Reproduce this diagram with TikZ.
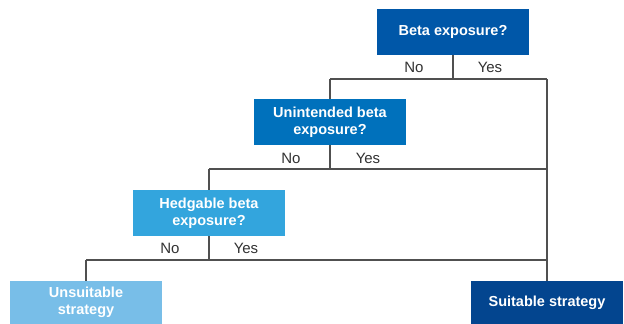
\documentclass[tikz,border=0pt]{standalone}
\usepackage{fontspec}
\setmainfont{Liberation Sans}
\definecolor{cA}{RGB}{0,87,168}
\definecolor{cB}{RGB}{0,113,188}
\definecolor{cC}{RGB}{51,165,221}
\definecolor{cD}{RGB}{120,190,232}
\definecolor{cE}{RGB}{3,69,143}
\definecolor{lineC}{RGB}{80,80,80}
\definecolor{txtC}{RGB}{50,50,50}
\tikzset{
  qbox/.style={draw=none, minimum width=152pt, minimum height=46pt, inner sep=0pt,
    text=white, font=\bfseries\fontsize{14.5}{17}\selectfont, align=center},
  endbox/.style={qbox, minimum height=43pt},
  conn/.style={draw=lineC, line width=1.2pt},
  lbl/.style={text=txtC, font=\fontsize{15}{16}\selectfont, inner sep=0pt}
}
\begin{document}
\begin{tikzpicture}[x=1pt,y=1pt]
\useasboundingbox (0,0) rectangle (624,-324);
% nodes
\node[qbox, fill=cA] (b1) at (453,-32) {Beta exposure?};
\node[qbox, fill=cB] (b2) at (330,-122) {Unintended beta\\exposure?};
\node[qbox, fill=cC] (b3) at (209,-213) {Hedgable beta\\exposure?};
\node[endbox, fill=cD] (un) at (86,-302.5) {Unsuitable\\strategy};
\node[endbox, fill=cE] (su) at (547,-302.5) {Suitable strategy};
% junctions
\coordinate (j1) at (453,-79);
\coordinate (j1l) at (330,-79);
\coordinate (j1r) at (547,-79);
\coordinate (j2) at (330,-169);
\coordinate (j2l) at (209,-169);
\coordinate (j2r) at (547,-169);
\coordinate (j3) at (209,-260);
\coordinate (j3l) at (86,-260);
\coordinate (j3r) at (547,-260);
% connectors
\draw[conn] (b1.south) -- (j1);
\draw[conn] (j1l) -- (j1r);
\draw[conn] (j1l) -- (b2.north);
\draw[conn] (b2.south) -- (j2);
\draw[conn] (j2l) -- (j2r);
\draw[conn] (j2l) -- (b3.north);
\draw[conn] (b3.south) -- (j3);
\draw[conn] (j3l) -- (j3r);
\draw[conn] (j3l) -- (un.north);
\draw[conn] (j1r) -- (su.north);
% labels
\node[lbl] (n1) at (414,-67) {No};
\node[lbl] (y1) at (490,-67) {Yes};
\node[lbl] (n2) at (291,-158) {No};
\node[lbl] (y2) at (368,-158) {Yes};
\node[lbl] (n3) at (170,-248) {No};
\node[lbl] (y3) at (246,-248) {Yes};
\end{tikzpicture}
\end{document}
